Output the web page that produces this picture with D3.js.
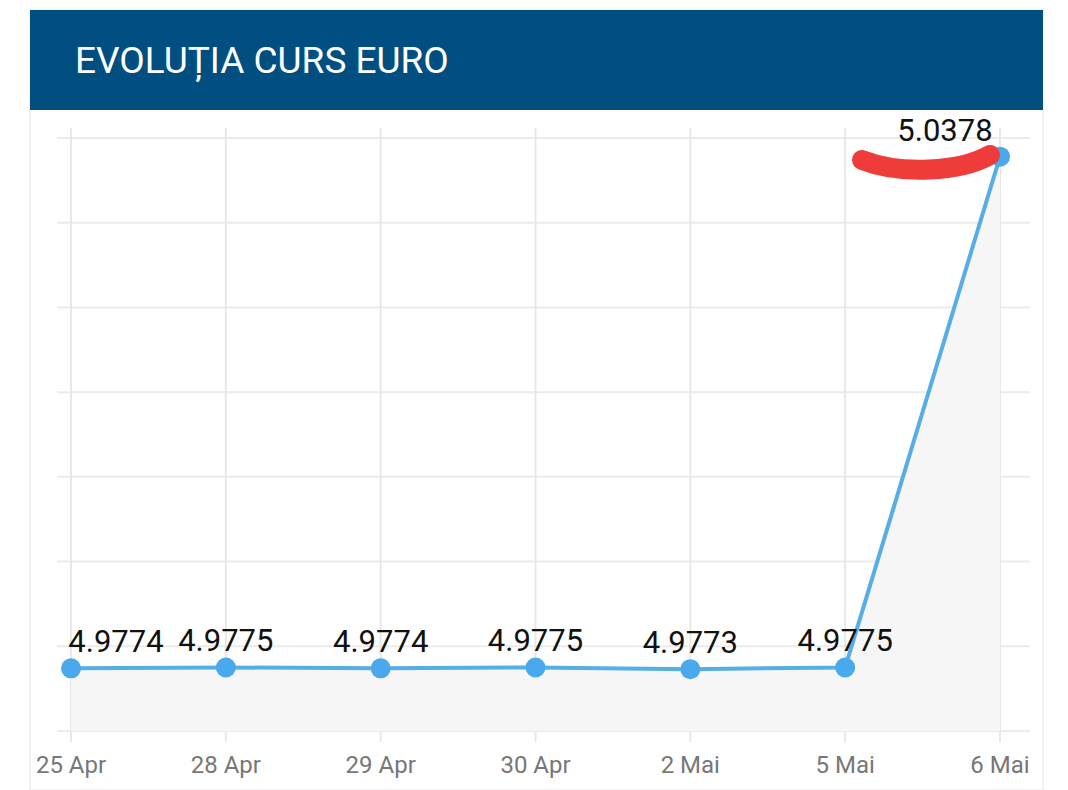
<!DOCTYPE html>
<html>
<head>
<meta charset="utf-8">
<script src="https://cdn.jsdelivr.net/npm/d3@7"></script>
<style>
  body { margin: 0; background: #fff; }
</style>
</head>
<body>
<svg></svg>
<script>
// Chart data //
var dates = ["25 Apr", "28 Apr", "29 Apr", "30 Apr", "2 Mai", "5 Mai", "6 Mai"];
var rates = [4.9774, 4.9775, 4.9774, 4.9775, 4.9773, 4.9775, 5.0378];
var yTicks = [4.97, 4.98, 4.99, 5.0, 5.01, 5.02, 5.03, 5.04];

var svg = d3.select("svg").attr("width", 1068).attr("height", 790);

// Card frame and header //
svg.append("rect").attr("x", 30).attr("y", 10).attr("width", 1013).attr("height", 780)
  .attr("fill", "#fff").attr("stroke", "#e6e6e6");
svg.append("rect").attr("x", 30).attr("y", 10).attr("width", 1013).attr("height", 100)
  .attr("fill", "#004f80");
svg.append("text").attr("x", 75).attr("y", 73).text("EVOLUȚIA CURS EURO")
  .attr("fill", "#fff").style("font-family", "Roboto").style("font-size", "37px");

var x = d3.scalePoint().domain(dates).range([71, 1000]);
var y = d3.scaleLinear().domain([4.97, 5.04]).range([731, 138]);

var g = svg.append("g");

// Grid //
g.selectAll(".hg").data(yTicks).enter().append("line")
  .attr("x1", 57).attr("x2", 1030)
  .attr("y1", function (d) { return y(d); }).attr("y2", function (d) { return y(d); })
  .attr("stroke", "#ebebeb").attr("stroke-width", 2);
g.selectAll(".vg").data(dates).enter().append("line")
  .attr("x1", function (d) { return x(d); }).attr("x2", function (d) { return x(d); })
  .attr("y1", 128).attr("y2", 742)
  .attr("stroke", "#e8e8e8").attr("stroke-width", 2);

// Area + line //
g.append("path").datum(rates)
  .attr("d", d3.area()
    .x(function (d, i) { return x(dates[i]); })
    .y0(y(4.97)).y1(function (d) { return y(d); }))
  .attr("fill", "#f6f6f6");
g.append("path").datum(rates)
  .attr("d", d3.line()
    .x(function (d, i) { return x(dates[i]); })
    .y(function (d) { return y(d); }))
  .attr("fill", "none").attr("stroke", "#57aee6").attr("stroke-width", 4);
g.selectAll(".pt").data(rates).enter().append("circle")
  .attr("cx", function (d, i) { return x(dates[i]); })
  .attr("cy", function (d) { return y(d); })
  .attr("r", 10).attr("fill", "#4aa8ec");

// Value labels //
g.selectAll(".lbl").data(rates).enter().append("text")
  .attr("x", function (d, i) {
    var px = x(dates[i]);
    if (i === 0) return px + 45;
    if (i === rates.length - 1) return px - 55;
    return px;
  })
  .attr("y", function (d) { return y(d) - 16; })
  .attr("text-anchor", "middle")
  .text(function (d) { return d.toFixed(4); })
  .attr("fill", "#111").style("font-family", "Roboto").style("font-size", "31px");

// X axis labels //
g.selectAll(".xl").data(dates).enter().append("text")
  .attr("x", function (d) { return x(d); }).attr("y", 773)
  .attr("text-anchor", "middle").text(function (d) { return d; })
  .attr("fill", "#777").style("font-family", "Roboto").style("font-size", "24px");

// Red marker scribble //
svg.append("path")
  .attr("d", "M862,160 C900,175 960,172 990,155")
  .attr("fill", "none").attr("stroke", "#f03b3b").attr("stroke-width", 20)
  .attr("stroke-linecap", "round");
</script>
</body>
</html>
